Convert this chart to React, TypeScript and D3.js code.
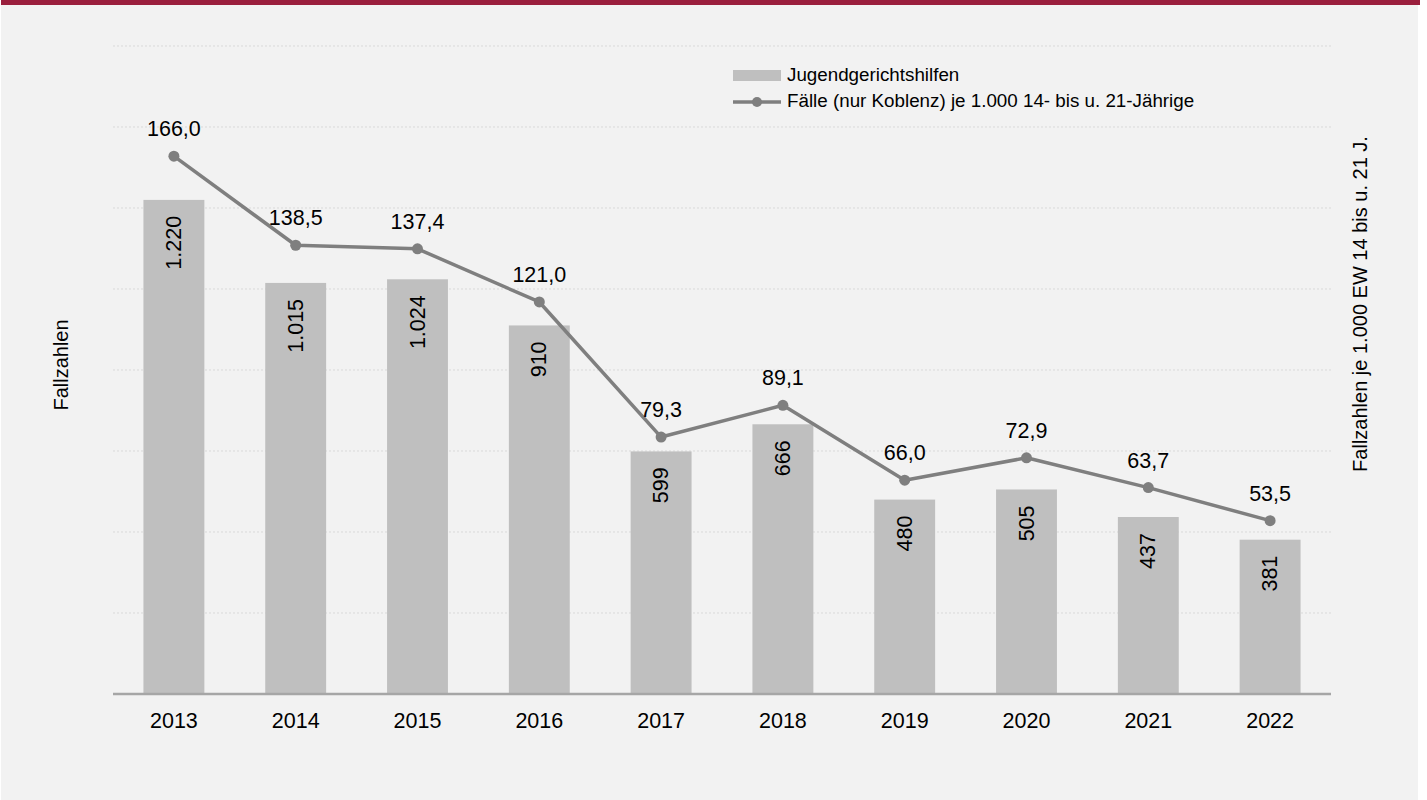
import React from "react";
import * as d3 from "d3";

const years = ["2013", "2014", "2015", "2016", "2017", "2018", "2019", "2020", "2021", "2022"];
const cases = [1220, 1015, 1024, 910, 599, 666, 480, 505, 437, 381];
const rates = [166.0, 138.5, 137.4, 121.0, 79.3, 89.1, 66.0, 72.9, 63.7, 53.5];
const leftTicks = [0, 200, 400, 600, 800, 1000, 1200, 1400, 1600];
const barLabel = "Jugendgerichtshilfen";
const lineLabel = "Fälle (nur Koblenz) je 1.000 14- bis u. 21-Jährige";
const leftTitle = "Fallzahlen";
const rightTitle = "Fallzahlen je 1.000 EW 14 bis u. 21 J.";

const W = 1427;
const H = 800;
const plot = { left: 113, right: 1331, top: 46, bottom: 694 };
const FONT = "'Liberation Sans', Arial, sans-serif";

const fmtInt = (v: number) => d3.format(",")(v).replace(/,/g, ".");
const fmtDec = (v: number) => v.toFixed(1).replace(".", ",");

export default function App() {
  const x = d3.scaleBand<string>().domain(years).range([plot.left, plot.right]).paddingInner(0.5).paddingOuter(0.25);
  const yL = d3.scaleLinear().domain([0, 1600]).range([plot.bottom, plot.top]);
  const yR = d3.scaleLinear().domain([0, 200]).range([plot.bottom, plot.top]);
  const cx = (y: string) => (x(y) as number) + x.bandwidth() / 2;
  const line = d3.line<number>().x((_, i) => cx(years[i])).y((d) => yR(d));

  return (
    <svg width={W} height={H} style={{ position: "absolute", left: 0, top: 0, display: "block" }} fontFamily={FONT}>
      <rect x={0} y={0} width={W} height={H} fill="#ffffff" />
      <rect x={1} y={0} width={1417} height={H} fill="#f2f2f2" />
      <rect x={1} y={0} width={1419} height={5} fill="#9a1f3d" />

      {leftTicks.slice(1).map((t) => (
        <line key={t} x1={plot.left} x2={plot.right} y1={yL(t)} y2={yL(t)} stroke="#d9d9d9" strokeWidth={1} strokeDasharray="2,2" />
      ))}

      {cases.map((v, i) => (
        <rect key={years[i]} x={x(years[i])} y={yL(v)} width={x.bandwidth()} height={yL(0) - yL(v)} fill="#bfbfbf" />
      ))}

      <line x1={plot.left} x2={plot.right} y1={plot.bottom} y2={plot.bottom} stroke="#a6a6a6" strokeWidth={2.5} />

      {cases.map((v, i) => (
        <text key={"bl" + i} transform={`translate(${cx(years[i])},${yL(v) + 16}) rotate(-90)`} textAnchor="end" dominantBaseline="central" fontSize={21.5} fill="#000">
          {fmtInt(v)}
        </text>
      ))}

      <path d={line(rates) as string} fill="none" stroke="#7f7f7f" strokeWidth={3.5} strokeLinejoin="round" />
      {rates.map((v, i) => (
        <circle key={"c" + i} cx={cx(years[i])} cy={yR(v)} r={5.5} fill="#7f7f7f" />
      ))}
      {rates.map((v, i) => (
        <text key={"rl" + i} x={cx(years[i])} y={yR(v) - 20} textAnchor="middle" fontSize={21.5} fill="#000">
          {fmtDec(v)}
        </text>
      ))}

      {years.map((y) => (
        <text key={"x" + y} x={cx(y)} y={728} textAnchor="middle" fontSize={21.5} fill="#000">
          {y}
        </text>
      ))}

      <text transform={`translate(68,365) rotate(-90)`} textAnchor="middle" fontSize={20} fill="#000">{leftTitle}</text>
      <text transform={`translate(1367,304) rotate(-90)`} textAnchor="middle" fontSize={20} fill="#000">{rightTitle}</text>

      <rect x={733} y={70} width={48} height={11} fill="#bfbfbf" />
      <text x={787} y={81} fontSize={18.8} fill="#000">{barLabel}</text>
      <line x1={733} x2={781} y1={102} y2={102} stroke="#7f7f7f" strokeWidth={3.5} />
      <circle cx={757} cy={102} r={5} fill="#7f7f7f" />
      <text x={787} y={107} fontSize={18.8} fill="#000">{lineLabel}</text>
    </svg>
  );
}
